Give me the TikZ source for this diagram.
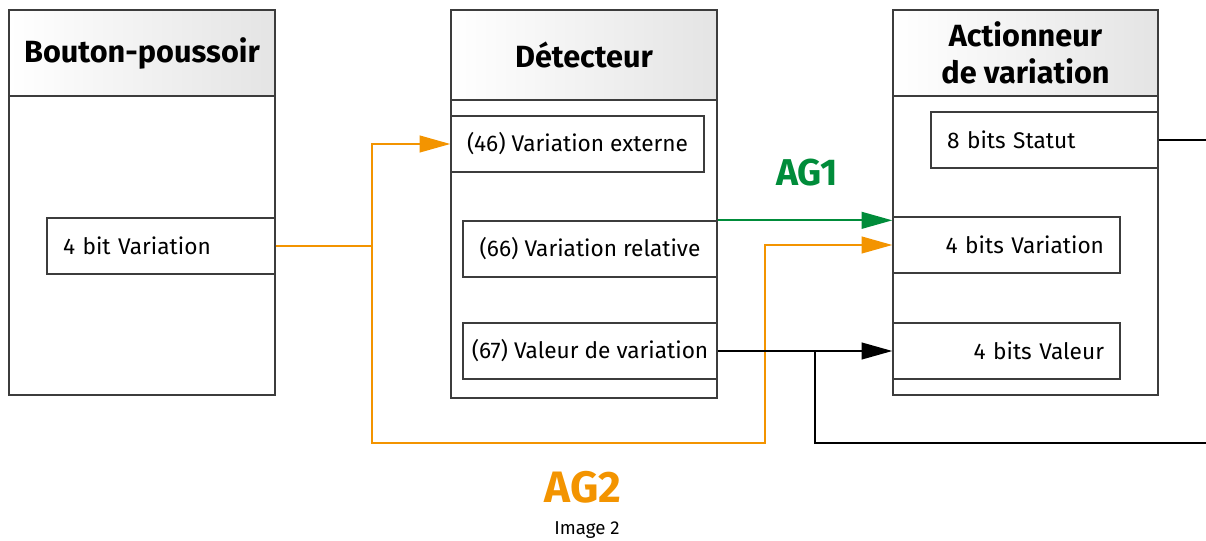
\documentclass[tikz,border=0pt]{standalone}
\usepackage{fontspec}
\setmainfont{Fira Sans}
\usetikzlibrary{arrows.meta}
\definecolor{agorange}{RGB}{243,148,0}
\definecolor{aggreen}{RGB}{0,140,58}
\definecolor{linegray}{RGB}{60,60,60}
\definecolor{headgray}{RGB}{228,228,228}
\tikzset{
  frame/.style={draw=linegray, line width=1.1pt, inner sep=0pt},
  head/.style={frame, left color=white, right color=headgray, align=center,
    font=\bfseries\fontsize{23}{28}\selectfont},
  port/.style={draw=linegray, line width=1pt, minimum height=42pt, inner xsep=12pt,
    font=\fontsize{17}{20}\selectfont},
  detport/.style={port, inner xsep=4pt, minimum width=#1},
  link/.style={line width=1.5pt, -{Triangle[length=23pt,width=12.5pt]}},
  wire/.style={line width=1.5pt},
}
\begin{document}
\begin{tikzpicture}[x=0.75pt,y=-0.75pt]
  \useasboundingbox (0,0) rectangle (1206,541);
  % Bouton-poussoir
  \node[frame, minimum width=199.5pt, minimum height=288.75pt] (bp) at (142,202.5) {};
  \node[head, minimum width=199.5pt, minimum height=64.5pt] (bphead) at (142,53) {Bouton-poussoir};
  \node[port, text width=147pt, align=left] (bpvar) at (161,246) {4 bit Variation};
  % Detecteur
  \node[frame, minimum width=199.5pt, minimum height=291pt] (det) at (584,204) {};
  \node[head, minimum width=199.5pt, minimum height=67.5pt] (dethead) at (584,55) {Détecteur};
  \node[detport=189.75pt] (detext) at (577.5,144) {(46) Variation externe};
  \node[detport=190.5pt] (detrel) at (590,249) {(66) Variation relative};
  \node[detport=190.5pt] (detval) at (590,351) {(67) Valeur de variation};
  % Actionneur de variation
  \node[frame, minimum width=198.75pt, minimum height=288.75pt] (act) at (1025.5,202.5) {};
  \node[head, minimum width=198.75pt, minimum height=64.5pt] (acthead) at (1025.5,53) {Actionneur\\de variation};
  \node[port, text width=146.25pt, align=left] (actstat) at (1044.5,140) {8 bits Statut};
  \node[port, text width=146.25pt, align=right] (actvar) at (1006.5,245) {4 bits Variation};
  \node[port, text width=146.25pt, align=right] (actval) at (1006.5,351) {4 bits Valeur};
  % coordinates
  \coordinate (split) at (372,246);
  \coordinate (bend) at (765,443);
  \coordinate (tap) at (815,351);
  \coordinate (valout) at (1206,443);
  \coordinate (statout) at (1206,140);
  % AG1
  \draw[link, aggreen] (detrel.north east) -- (detrel.north east -| actvar.west);
  \node[text=aggreen, font=\bfseries\fontsize{28}{32}\selectfont] (agone) at (807,173) {AG1};
  % AG2
  \draw[link, agorange] (bpvar.east) -- (split) |- (detext.west);
  \draw[link, agorange] (split) |- (bend) |- (actvar.west);
  \node[text=agorange, font=\bfseries\fontsize{33}{36}\selectfont] (agtwo) at (583,487) {AG2};
  % valeur
  \draw[link] (detval.east) -- (actval.west);
  \draw[wire] (tap) |- (valout);
  \draw[wire] (actstat.east) -- (statout);
  \node[font=\fontsize{14}{16}\selectfont] (caption) at (587,530) {Image 2};
\end{tikzpicture}
\end{document}
